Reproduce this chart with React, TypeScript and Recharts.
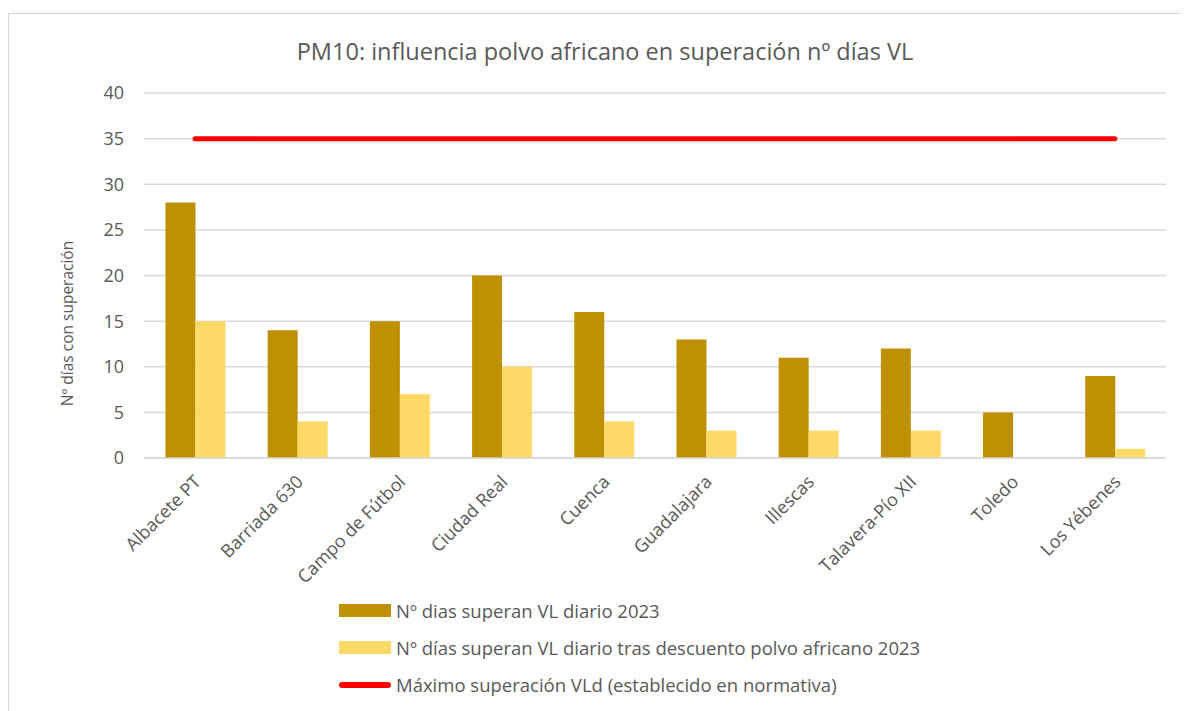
import React from 'react';
import { ComposedChart, Bar, Line, XAxis, YAxis, CartesianGrid, Legend, Label } from 'recharts';

const categories = ['Albacete PT', 'Barriada 630', 'Campo de Fútbol', 'Ciudad Real', 'Cuenca', 'Guadalajara', 'Illescas', 'Talavera-Pío XII', 'Toledo', 'Los Yébenes'];
const diasSuperan = [28, 14, 15, 20, 16, 13, 11, 12, 5, 9];
const diasTrasDescuento = [15, 4, 7, 10, 4, 3, 3, 3, 0, 1];
const maximoVLd = [35, 35, 35, 35, 35, 35, 35, 35, 35, 35];
const yTicks = [0, 5, 10, 15, 20, 25, 30, 35, 40];

const SERIES1 = 'Nº dias superan VL diario 2023';
const SERIES2 = 'Nº días superan VL diario tras descuento polvo africano 2023';
const SERIES3 = 'Máximo superación VLd (establecido en normativa)';
const legendOrder = [SERIES1, SERIES2, SERIES3];

const data = categories.map((c, i) => ({
  name: c,
  a: diasSuperan[i],
  b: diasTrasDescuento[i],
  m: maximoVLd[i],
}));

const FONT = '"Open Sans", sans-serif';
const TEXT = '#595959';

const XTick = (props: any) => {
  const { x, y, payload } = props;
  return (
    <g transform={`translate(${x + 7},${y + 25})`}>
      <text x={0} y={0} textAnchor="end" transform="rotate(-45)" fill={TEXT} fontSize={18} fontFamily={FONT}>
        {payload.value}
      </text>
    </g>
  );
};

const YLabel = (props: any) => {
  const { viewBox } = props;
  const cx = viewBox.x + 53;
  const cy = viewBox.y + viewBox.height / 2 + 48;
  return (
    <text
      transform={`translate(${cx},${cy}) rotate(-90)`}
      textAnchor="middle"
      dominantBaseline="central"
      fill={TEXT}
      fontSize={15.5}
      fontFamily={FONT}
    >
      Nº días con superación
    </text>
  );
};

const LegendContent = (props: any) => {
  const payload = [...(props.payload || [])].sort(
    (p: any, q: any) => legendOrder.indexOf(p.value) - legendOrder.indexOf(q.value)
  );
  return (
    <div style={{ fontFamily: FONT }}>
      {payload.map((p: any, i: number) => (
        <div key={i} style={{ display: 'flex', alignItems: 'center', height: 37, whiteSpace: 'nowrap' }}>
          {p.type === 'line' ? (
            <div style={{ width: 52, height: 6, borderRadius: 3, background: p.color, marginRight: 5 }} />
          ) : (
            <div style={{ width: 52, height: 13, background: p.color, marginRight: 5 }} />
          )}
          <span style={{ fontSize: 18.5, color: TEXT }}>{p.value}</span>
        </div>
      ))}
    </div>
  );
};

export default function App() {
  return (
    <div style={{ paddingTop: 5 }}>
      <div
        style={{
          position: 'relative',
          width: 1181,
          height: 698,
          boxSizing: 'border-box',
          borderTop: '1px solid #D9D9D9',
          borderLeft: '1px solid #D9D9D9',
          background: '#fff',
          fontFamily: FONT,
        }}
      >
        <div
          style={{
            position: 'absolute',
            left: 0,
            top: 21,
            width: 1192,
            textAlign: 'center',
            fontSize: 23.5,
            color: TEXT,
            fontFamily: FONT,
            lineHeight: '32px',
          }}
        >
          PM10: influencia polvo africano en superación nº días VL
        </div>
        <ComposedChart
          width={1180}
          height={697}
          data={data}
          margin={{ top: 79, right: 23, left: 5, bottom: 153 }}
          barCategoryGap="21%"
          barGap={0}
        >
          <CartesianGrid vertical={false} stroke="#D9D9D9" strokeWidth={1.5} />
          <XAxis
            dataKey="name"
            interval={0}
            height={100}
            tick={<XTick />}
            tickLine={false}
            tickSize={0}
            tickMargin={0}
            axisLine={{ stroke: '#D9D9D9', strokeWidth: 1.5 }}
          />
          <YAxis
            width={130}
            domain={[0, 40]}
            ticks={yTicks}
            interval={0}
            tickLine={false}
            axisLine={false}
            tickSize={0}
            tickMargin={20}
            tick={{ fill: TEXT, fontSize: 18, fontFamily: FONT }}
          >
            <Label content={<YLabel />} />
          </YAxis>
          <Bar dataKey="a" name={SERIES1} fill="#BF9000" isAnimationActive={false} />
          <Bar dataKey="b" name={SERIES2} fill="#FFD966" isAnimationActive={false} />
          <Line
            dataKey="m"
            name={SERIES3}
            type="linear"
            stroke="#FF0000"
            strokeWidth={5}
            strokeLinecap="round"
            dot={false}
            activeDot={false}
            legendType="line"
            isAnimationActive={false}
          />
          <Legend
            layout="horizontal"
            verticalAlign="middle"
            align="center"
            content={<LegendContent />}
            wrapperStyle={{ top: 578, left: 330, width: 760, height: 115 }}
          />
        </ComposedChart>
      </div>
    </div>
  );
}
